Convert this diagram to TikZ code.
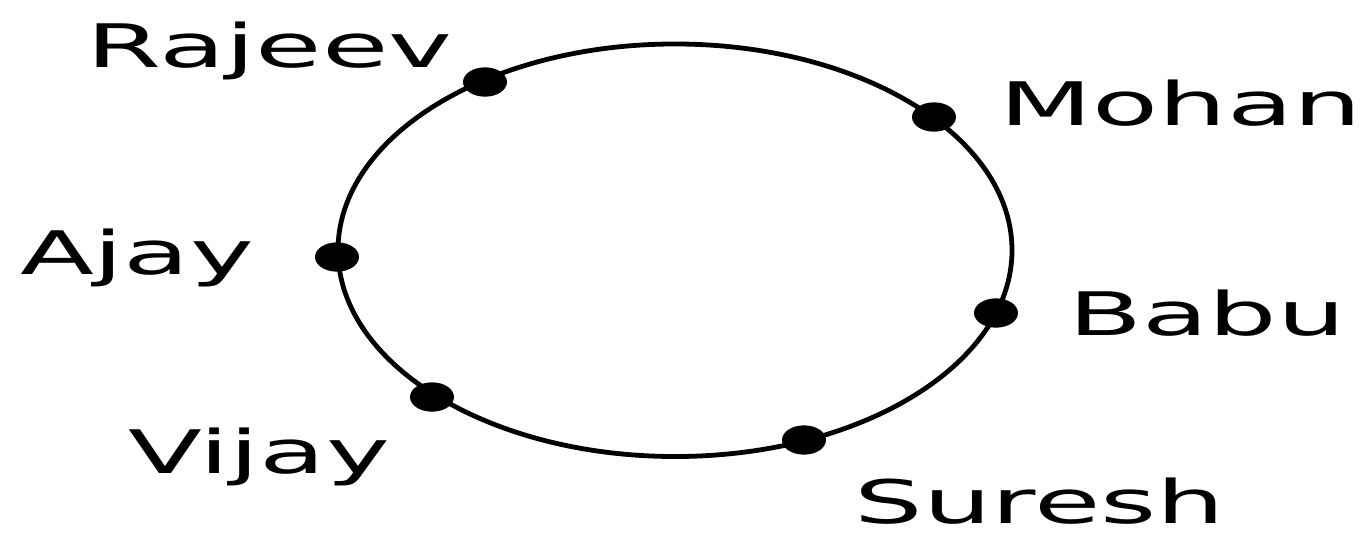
\documentclass[tikz,border=0pt]{standalone}
\usepackage{fontspec}
\setmainfont{DejaVu Sans}
\usetikzlibrary{shapes.geometric}
\begin{document}
\begin{tikzpicture}[x=0.75pt,y=-0.75pt,
  ringline/.style={line width=3.6pt},
  dotnode/.style={ellipse,fill=black,inner sep=0pt,minimum width=33pt,minimum height=22pt},
  lbl/.style={inner sep=0pt,anchor=base,xscale=1.8,font=\fontsize{45}{50}\selectfont}]
\useasboundingbox (0,0) rectangle (1367,532);
\draw[ringline] (675,250.25) ellipse [x radius=252.75pt, y radius=154.7pt];
\node[dotnode] (rajeevdot) at (485,82) {};
\node[dotnode] (mohandot) at (934,117) {};
\node[dotnode] (ajaydot) at (337,257) {};
\node[dotnode] (babudot) at (996,313) {};
\node[dotnode] (vijaydot) at (432,397) {};
\node[dotnode] (sureshdot) at (804,440) {};
\node[lbl] (rajeev) at (269.5,67) {Rajeev};
\node[lbl] (mohan) at (1180.5,125) {Mohan};
\node[lbl] (ajay) at (137,274) {Ajay};
\node[lbl] (babu) at (1207,335) {Babu};
\node[lbl] (vijay) at (259,473) {Vijay};
\node[lbl,text depth=0pt] (suresh) at (1040,523) {Suresh};
\end{tikzpicture}
\end{document}
